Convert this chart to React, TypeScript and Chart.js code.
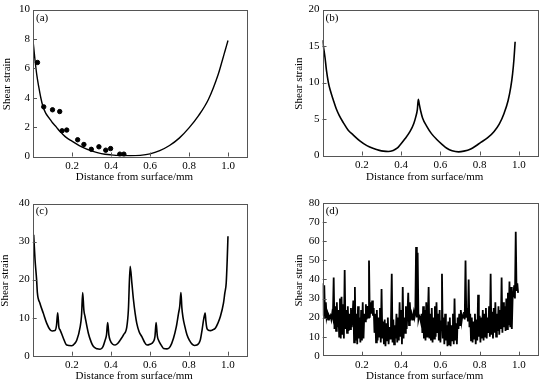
import React, { useEffect, useRef } from 'react';
import { Chart, registerables } from 'chart.js';

Chart.register(...registerables);

const FONT = '"Liberation Serif", "Times New Roman", serif';

// ---------- shared axis ticks ----------
const xTickValues = [0.2, 0.4, 0.6, 0.8, 1.0];
const xTitle = 'Distance from surface/mm';
const yTitle = 'Shear strain';

// ---------- panel (a) ----------
const aCurveX = [0, 0.01, 0.02, 0.03, 0.04, 0.05, 0.065, 0.084, 0.1, 0.12, 0.135, 0.15, 0.17, 0.2, 0.25, 0.3, 0.35, 0.4, 0.45, 0.5, 0.55, 0.6, 0.65, 0.7, 0.75, 0.8, 0.85, 0.9, 0.95, 0.97, 0.985, 1.0];
const aCurveY = [7.9, 6.6, 5.5, 4.7, 4.0, 3.45, 2.95, 2.6, 2.3, 2.0, 1.75, 1.55, 1.3, 1.05, 0.65, 0.38, 0.2, 0.11, 0.06, 0.05, 0.08, 0.18, 0.4, 0.75, 1.25, 1.95, 2.8, 3.9, 5.6, 6.5, 7.2, 7.9];
const aDotX = [0.023, 0.055, 0.1, 0.137, 0.149, 0.173, 0.229, 0.261, 0.299, 0.338, 0.373, 0.398, 0.445, 0.466];
const aDotY = [6.4, 3.38, 3.18, 3.06, 1.75, 1.8, 1.14, 0.82, 0.49, 0.66, 0.43, 0.54, 0.16, 0.16];
const aYTicks = [0, 2, 4, 6, 8, 10];

// ---------- panel (b) ----------
const bX = [0, 0.005, 0.013, 0.02, 0.03, 0.04, 0.055, 0.07, 0.085, 0.106, 0.13, 0.157, 0.19, 0.226, 0.26, 0.29, 0.31, 0.335, 0.36, 0.38, 0.395, 0.42, 0.446, 0.465, 0.475, 0.483, 0.488, 0.493, 0.5, 0.51, 0.531, 0.555, 0.582, 0.61, 0.633, 0.66, 0.693, 0.72, 0.755, 0.78, 0.806, 0.84, 0.874, 0.9, 0.925, 0.945, 0.959, 0.968, 0.975, 0.981];
const bY = [15.8, 14.9, 13.4, 11.7, 10.0, 8.9, 7.6, 6.4, 5.5, 4.5, 3.5, 2.8, 2.0, 1.35, 0.95, 0.7, 0.6, 0.55, 0.7, 1.0, 1.45, 2.3, 3.3, 4.4, 5.3, 6.3, 7.7, 7.0, 6.1, 5.1, 4.0, 3.0, 2.2, 1.5, 1.0, 0.65, 0.5, 0.6, 0.9, 1.3, 1.8, 2.4, 3.3, 4.3, 5.8, 7.5, 9.4, 11.2, 13.2, 15.6];
const bYTicks = [0, 5, 10, 15, 20];

// ---------- panel (c) ----------
const cX = [0.005, 0.012, 0.02, 0.024, 0.037, 0.054, 0.072, 0.089, 0.1, 0.114, 0.122, 0.128, 0.134, 0.14, 0.157, 0.174, 0.2, 0.215, 0.226, 0.243, 0.25, 0.256, 0.262, 0.268, 0.285, 0.3, 0.311, 0.33, 0.345, 0.36, 0.371, 0.378, 0.384, 0.39, 0.396, 0.41, 0.422, 0.435, 0.448, 0.465, 0.482, 0.49, 0.499, 0.508, 0.516, 0.525, 0.533, 0.545, 0.559, 0.572, 0.585, 0.6, 0.618, 0.626, 0.632, 0.638, 0.644, 0.658, 0.67, 0.688, 0.704, 0.721, 0.735, 0.747, 0.753, 0.759, 0.764, 0.769, 0.78, 0.79, 0.803, 0.815, 0.828, 0.841, 0.858, 0.868, 0.875, 0.883, 0.887, 0.892, 0.9, 0.91, 0.922, 0.935, 0.948, 0.961, 0.977, 0.984, 0.991, 0.996, 1.0];
const cY = [31.8, 25.2, 20, 16.5, 13.8, 11.2, 8.5, 6.8, 6.5, 6.6, 8, 11.3, 7.5, 6.8, 4.6, 2.8, 2.6, 3.2, 4.1, 7.6, 10.5, 16.6, 12, 10.3, 5.9, 3.5, 2.4, 1.8, 1.7, 2.4, 4.1, 5.5, 8.7, 5.5, 4.1, 3.0, 2.8, 3.2, 4.1, 5.5, 7.6, 12, 23.5, 19, 14.7, 11, 8.5, 6.3, 5, 3.6, 2.8, 3.0, 3.7, 5, 8.7, 5.3, 4.1, 2.8, 1.9, 1.8, 2.4, 4.6, 7.5, 11.2, 13, 16.6, 12.5, 10.3, 7.5, 5.5, 4, 3.1, 2.7, 2.8, 4.1, 7, 9.4, 11.2, 9, 7.2, 6.7, 6.6, 6.8, 7.2, 8.5, 10.3, 13.8, 16.5, 19.1, 25, 31.4];
const cYTicks = [0, 10, 20, 30, 40];

// ---------- panel (d) ----------
const dStep = 0.004;
const dValues = [
  38, 21, 37, 20, 28, 20, 22, 19, 21, 20,
  21, 19, 22, 20, 41, 14, 26, 13, 28, 15,
  24, 10, 30, 9, 31, 11, 27, 9, 45, 14,
  24, 12, 26, 13, 22, 14, 25, 15, 20, 29,
  7, 36, 8, 22, 6, 26, 9, 20, 7, 24,
  8, 28, 9, 22, 18, 27, 19, 26, 20, 50,
  20, 28, 22, 29, 21, 25, 12, 22, 7, 24,
  8, 20, 10, 25, 7, 35, 9, 18, 6, 19,
  5, 17, 8, 20, 6, 15, 9, 18, 43, 7,
  19, 6, 16, 9, 22, 7, 20, 8, 28, 10,
  24, 6, 36, 9, 20, 12, 26, 14, 22, 33,
  16, 28, 20, 22, 19, 21, 23, 20, 22, 57,
  20, 54, 19, 21, 20, 18, 22, 12, 26, 9,
  24, 8, 28, 10, 20, 36, 9, 22, 8, 25,
  7, 20, 9, 26, 10, 28, 12, 22, 8, 24,
  7, 18, 43, 9, 20, 6, 22, 8, 16, 5,
  18, 6, 20, 5, 16, 8, 22, 6, 30, 8,
  17, 6, 20, 14, 22, 16, 24, 18, 21, 20,
  23, 19, 50, 20, 25, 18, 40, 15, 22, 8,
  20, 7, 18, 9, 22, 6, 19, 8, 32, 10,
  21, 7, 20, 9, 24, 8, 22, 10, 25, 9,
  20, 12, 26, 10, 43, 11, 23, 9, 25, 12,
  28, 10, 22, 13, 26, 11, 24, 14, 41, 12,
  28, 15, 26, 13, 30, 14, 33, 16, 39, 15,
  36, 14, 30, 32, 37, 30, 65, 34, 38, 33,
];
const dYTicks = [0, 10, 20, 30, 40, 50, 60, 70, 80];

const zip = (xs: number[], ys: number[]) => xs.map((x, i) => ({ x, y: ys[i] }));

type PanelCfg = {
  key: string;
  label: string;
  left: number;
  top: number;
  width: number;
  height: number;
  area: { left: number; right: number; top: number; bottom: number };
  yTicks: number[];
  labelDY: number;
  yTitleX: number;
  xTitleY: number;
  datasets: any[];
};

const lineStyle = (w: number, mode: 'monotone' | 'none') => ({
  borderColor: '#000',
  borderWidth: w,
  pointRadius: 0,
  fill: false,
  borderJoinStyle: 'miter',
  ...(mode === 'monotone' ? { cubicInterpolationMode: 'monotone' } : { tension: 0 }),
});

const panels: PanelCfg[] = [
  {
    key: 'a', label: '(a)', left: 0, top: 0, width: 270, height: 190,
    area: { left: 33, right: 247.5, top: 4, bottom: 156.5 },
    yTicks: aYTicks, labelDY: 9, yTitleX: 7, xTitleY: 177.5,
    datasets: [
      { data: zip(aCurveX, aCurveY), ...lineStyle(1.4, 'monotone') },
      { data: zip(aDotX, aDotY), showLine: false, pointRadius: 2.2, pointBackgroundColor: '#000', pointBorderColor: '#000', borderColor: '#000' },
    ],
  },
  {
    key: 'b', label: '(b)', left: 270, top: 0, width: 270, height: 190,
    area: { left: 52.5, right: 268.5, top: 3.7, bottom: 155.5 },
    yTicks: bYTicks, labelDY: 9, yTitleX: 29, xTitleY: 177.5,
    datasets: [{ data: zip(bX, bY), ...lineStyle(1.6, 'monotone') }],
  },
  {
    key: 'c', label: '(c)', left: 0, top: 190, width: 270, height: 191,
    area: { left: 32.7, right: 247.5, top: 13.5, bottom: 165.7 },
    yTicks: cYTicks, labelDY: 7.5, yTitleX: 5, xTitleY: 186.5,
    datasets: [{ data: zip(cX, cY), ...lineStyle(1.6, 'monotone') }],
  },
  {
    key: 'd', label: '(d)', left: 270, top: 190, width: 270, height: 191,
    area: { left: 52.7, right: 268.5, top: 13.3, bottom: 165.7 },
    yTicks: dYTicks, labelDY: 7.5, yTitleX: 29, xTitleY: 186.5,
    datasets: [{ data: dValues.map((y, i) => ({ x: i * dStep, y })), ...lineStyle(1.8, 'none') }],
  },
];

function makeDecorPlugin(cfg: PanelCfg) {
  return {
    id: 'decor-' + cfg.key,
    afterDraw(chart: any) {
      const { ctx, chartArea: a, scales } = chart;
      const xs = scales.x;
      const ys = scales.y;
      ctx.save();
      ctx.strokeStyle = '#555';
      ctx.lineWidth = 1;
      ctx.strokeRect(Math.round(a.left) + 0.5, Math.round(a.top) + 0.5, Math.round(a.right - a.left) - 1, Math.round(a.bottom - a.top));
      ctx.beginPath();
      xTickValues.forEach((v) => {
        const px = Math.round(xs.getPixelForValue(v)) + 0.5;
        ctx.moveTo(px, a.bottom);
        ctx.lineTo(px, a.bottom - 4);
      });
      cfg.yTicks.forEach((v, i) => {
        if (i === 0 || i === cfg.yTicks.length - 1) return;
        const py = Math.round(ys.getPixelForValue(v)) + 0.5;
        ctx.moveTo(a.left, py);
        ctx.lineTo(a.left + 4, py);
      });
      ctx.stroke();

      ctx.fillStyle = '#000';
      ctx.font = `11px ${FONT}`;
      ctx.textBaseline = 'middle';
      ctx.textAlign = 'left';
      ctx.fillText(cfg.label, a.left + 3, a.top + cfg.labelDY);

      ctx.textAlign = 'center';
      ctx.fillText(xTitle, xs.getPixelForValue(0.52), cfg.xTitleY);

      ctx.translate(cfg.yTitleX, (a.top + a.bottom) / 2 + 1);
      ctx.rotate(-Math.PI / 2);
      ctx.fillText(yTitle, 0, 0);
      ctx.restore();
    },
  };
}

function Panel({ cfg }: { cfg: PanelCfg }) {
  const ref = useRef<HTMLCanvasElement>(null);
  useEffect(() => {
    if (!ref.current) return;
    const yMax = cfg.yTicks[cfg.yTicks.length - 1];
    const chart = new Chart(ref.current, {
      type: 'line',
      data: { datasets: cfg.datasets },
      options: {
        animation: false,
        responsive: false,
        devicePixelRatio: 1,
        parsing: false as any,
        layout: {
          padding: { left: 0, top: cfg.area.top, right: cfg.width - cfg.area.right, bottom: 0 },
        },
        plugins: { legend: { display: false }, tooltip: { enabled: false }, title: { display: false } },
        scales: {
          x: {
            type: 'linear',
            min: 0,
            max: 1.1,
            grid: { display: false, drawTicks: false, tickLength: 0 },
            border: { display: false },
            afterFit: (s: any) => { s.height = cfg.height - cfg.area.bottom; },
            afterBuildTicks: (s: any) => { s.ticks = xTickValues.map((v) => ({ value: v })); },
            ticks: {
              autoSkip: false,
              maxRotation: 0,
              padding: 3,
              color: '#000',
              font: { family: FONT, size: 11 },
              callback: (v: any) => Number(v).toFixed(1),
            },
          },
          y: {
            type: 'linear',
            min: 0,
            max: yMax,
            grid: { display: false, drawTicks: false, tickLength: 0 },
            border: { display: false },
            afterFit: (s: any) => { s.width = cfg.area.left; },
            afterBuildTicks: (s: any) => { s.ticks = cfg.yTicks.map((v) => ({ value: v })); },
            ticks: {
              autoSkip: false,
              padding: 3,
              color: '#000',
              font: { family: FONT, size: 11 },
              callback: (v: any) => String(v),
            },
          },
        },
      },
      plugins: [makeDecorPlugin(cfg)],
    } as any);
    return () => chart.destroy();
  }, [cfg]);
  return (
    <canvas
      ref={ref}
      width={cfg.width}
      height={cfg.height}
      style={{ position: 'absolute', left: cfg.left, top: cfg.top, width: cfg.width, height: cfg.height }}
    />
  );
}

export default function App() {
  return (
    <div style={{ position: 'fixed', left: 0, top: 0, width: 540, height: 381, background: '#fff', overflow: 'hidden' }}>
      {panels.map((p) => (
        <Panel key={p.key} cfg={p} />
      ))}
    </div>
  );
}
